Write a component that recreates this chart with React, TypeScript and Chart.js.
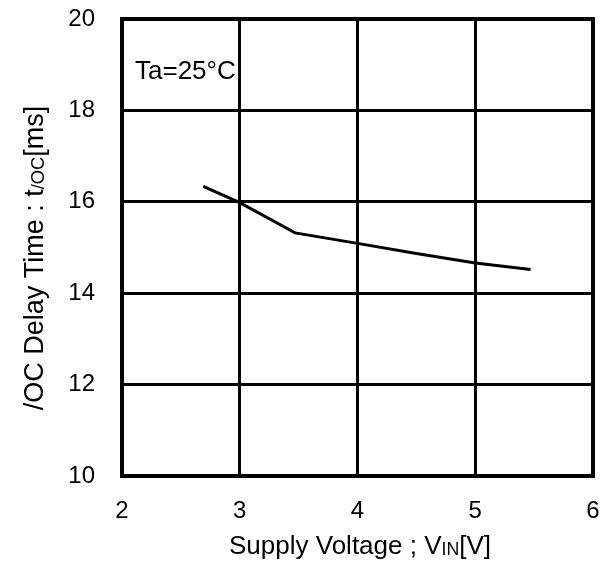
import React, { useEffect, useRef } from "react";
import { Chart, registerables } from "chart.js";

Chart.register(...registerables);

const voltage = [2.69, 3.0, 3.47, 4.0, 4.5, 5.0, 5.47];
const delayTime = [16.34, 15.98, 15.32, 15.09, 14.87, 14.66, 14.52];
const xTicks = [2, 3, 4, 5, 6];
const yTicks = [10, 12, 14, 16, 18, 20];
const annotationText = "Ta=25°C";

const FONT = "'Liberation Sans', Arial, sans-serif";

const decorPlugin = {
  id: "decor",
  afterDraw(chart: any) {
    const { ctx, chartArea } = chart;
    const { left, top, right, bottom } = chartArea;
    ctx.save();
    ctx.strokeStyle = "#000";
    ctx.lineWidth = 4;
    ctx.strokeRect(left, top, right - left, bottom - top);
    ctx.fillStyle = "#000";
    ctx.textBaseline = "alphabetic";
    ctx.textAlign = "left";
    ctx.font = `26px ${FONT}`;
    ctx.fillText(annotationText, 135, 79);

    const measure = (parts: { t: string; sub?: boolean }[], size: number) => {
      let w = 0;
      parts.forEach((p) => {
        ctx.font = `${p.sub ? size * 0.68 : size}px ${FONT}`;
        w += ctx.measureText(p.t).width;
      });
      return w;
    };
    const xParts = [
      { t: "Supply Voltage ; V" },
      { t: "IN", sub: true },
      { t: "[V]" },
    ];
    const xs = 26;
    const xw = measure(xParts, xs);
    let cx = 360 - xw / 2;
    xParts.forEach((p) => {
      ctx.font = `${p.sub ? xs * 0.68 : xs}px ${FONT}`;
      ctx.fillText(p.t, cx, p.sub ? 555 : 554);
      cx += ctx.measureText(p.t).width;
    });

    const yParts = [
      { t: "/OC Delay Time : t" },
      { t: "/OC", sub: true },
      { t: "[ms]" },
    ];
    const ys = 27;
    const yw = measure(yParts, ys);
    ctx.translate(43, 258);
    ctx.rotate(-Math.PI / 2);
    let cy = -yw / 2;
    yParts.forEach((p) => {
      ctx.font = `${p.sub ? ys * 0.68 : ys}px ${FONT}`;
      ctx.fillText(p.t, cy, p.sub ? 1 : 0);
      cy += ctx.measureText(p.t).width;
    });
    ctx.restore();
  },
};

export default function App() {
  const ref = useRef<HTMLCanvasElement>(null);
  useEffect(() => {
    document.body.style.margin = "0";
    const chart = new Chart(ref.current!, {
      type: "scatter",
      data: {
        datasets: [
          {
            data: voltage.map((v, i) => ({ x: v, y: delayTime[i] })),
            showLine: true,
            borderColor: "#000",
            borderWidth: 3,
            pointRadius: 0,
            tension: 0,
          },
        ],
      },
      options: {
        animation: false,
        responsive: false,
        layout: { padding: { top: 19, right: 9, left: 0, bottom: 0 } },
        plugins: { legend: { display: false }, tooltip: { enabled: false } },
        scales: {
          x: {
            type: "linear",
            min: 2,
            max: 6,
            afterBuildTicks: (s: any) => {
              s.ticks = xTicks.map((v) => ({ value: v }));
            },
            afterFit: (s: any) => {
              s.height = 88;
              s.paddingLeft = 0;
              s.paddingRight = 0;
            },
            grid: { color: "#000", lineWidth: 3, drawTicks: false },
            border: { display: false },
            ticks: {
              color: "#000",
              padding: 21,
              font: { family: FONT, size: 24 },
              maxRotation: 0,
            },
          },
          y: {
            type: "linear",
            min: 10,
            max: 20,
            afterBuildTicks: (s: any) => {
              s.ticks = yTicks.map((v) => ({ value: v }));
            },
            afterFit: (s: any) => {
              s.width = 122;
              s.paddingTop = 0;
              s.paddingBottom = 0;
            },
            grid: { color: "#000", lineWidth: 3, drawTicks: false },
            border: { display: false },
            ticks: {
              color: "#000",
              padding: 27,
              font: { family: FONT, size: 24 },
            },
          },
        },
      },
      plugins: [decorPlugin],
    });
    return () => chart.destroy();
  }, []);
  return (
    <div style={{ width: 602, height: 564 }}>
      <canvas ref={ref} width={602} height={564} />
    </div>
  );
}
